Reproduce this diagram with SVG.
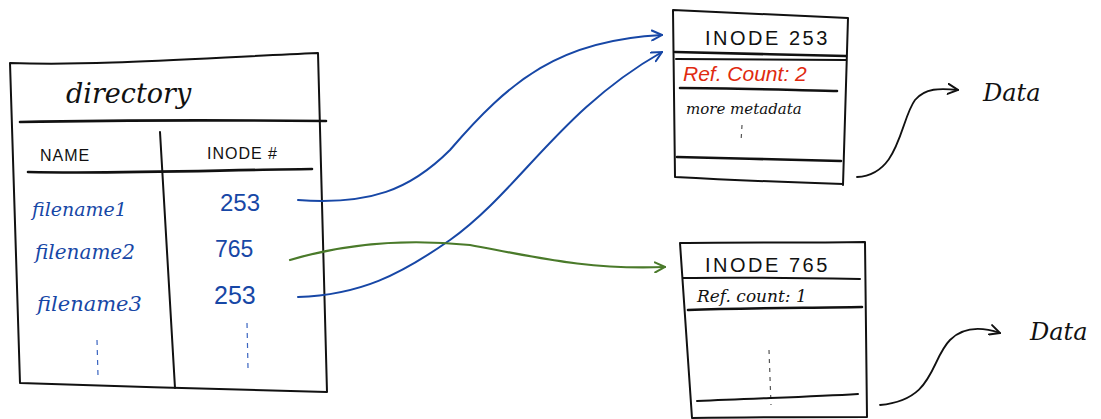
<svg xmlns="http://www.w3.org/2000/svg" width="1101" height="419" viewBox="0 0 1101 419">
<style>
.ln{fill:none;stroke:#111;stroke-width:2;stroke-linecap:round;stroke-linejoin:round}
.thk{stroke-width:2.6}
.hw{font-family:"Liberation Sans",sans-serif;fill:#111}
.cur{font-family:"DejaVu Serif","Liberation Serif",serif;font-style:italic}
.blue{fill:#1747a6}
.red{fill:#e02a10}
.dash{fill:none;stroke:#3a64c0;stroke-width:1.2;stroke-dasharray:5 5}
.dashk{fill:none;stroke:#555;stroke-width:1.2;stroke-dasharray:4 5}
.cb{fill:none;stroke:#1747a6;stroke-width:2;stroke-linecap:round}
.cg{fill:none;stroke:#4a7a2a;stroke-width:2.2;stroke-linecap:round}
.ck{fill:none;stroke:#111;stroke-width:1.8;stroke-linecap:round}
</style>
<defs>
<marker id="ab" viewBox="0 0 12 12" refX="11" refY="6" markerWidth="12" markerHeight="12" markerUnits="userSpaceOnUse" orient="auto"><path d="M1,1 L11,6 L1,11" fill="none" stroke="#1747a6" stroke-width="2" stroke-linecap="round"/></marker>
<marker id="ag" viewBox="0 0 12 12" refX="11" refY="6" markerWidth="12" markerHeight="12" markerUnits="userSpaceOnUse" orient="auto"><path d="M1,1 L11,6 L1,11" fill="none" stroke="#4a7a2a" stroke-width="2" stroke-linecap="round"/></marker>
<marker id="ak" viewBox="0 0 12 12" refX="11" refY="6" markerWidth="12" markerHeight="12" markerUnits="userSpaceOnUse" orient="auto"><path d="M1,1 L11,6 L1,11" fill="none" stroke="#111" stroke-width="2" stroke-linecap="round"/></marker>
</defs>

<g id="directory">
<path class="ln" d="M10,63 C100,66 200,58 318,53 M10,63 L20,383 M318,53 L327,392 M20,383 C120,386 230,390 327,392"/>
<path class="ln thk" d="M20,122 C120,120 220,120 326,121"/>
<path class="ln" d="M160,132 L175,388"/>
<path class="ln thk" d="M28,172 C120,174 220,170 312,169"/>
<text class="hw cur" x="66" y="103" font-size="27">directory</text>
<text class="hw" x="40" y="161" font-size="16" letter-spacing="1">NAME</text>
<text class="hw" x="207" y="159" font-size="16" letter-spacing="1">INODE #</text>
<text class="cur blue" x="32" y="216" font-size="19">filename1</text>
<text class="cur blue" x="35" y="259" font-size="20">filename2</text>
<text class="cur blue" x="37" y="311" font-size="21">filename3</text>
<text class="hw blue" x="220" y="211" font-size="24">253</text>
<text class="hw blue" x="215" y="257" font-size="23">765</text>
<text class="hw blue" x="214" y="304" font-size="25">253</text>
<path class="dash" d="M97,340 L98,376"/>
<path class="dash" d="M247,323 L248,368"/>
</g>

<g id="inode253">
<path class="ln" d="M673,10 C730,13 790,15 848,18 M673,10 L675,177 M848,18 L843,185 M675,177 C730,180 780,182 843,184"/>
<path class="ln thk" d="M675,52 C730,53 790,55 846,56"/>
<path class="ln" d="M676,59 L846,60"/>
<path class="ln thk" d="M680,88 C730,88 790,90 837,91"/>
<path class="ln thk" d="M677,157 C730,158 790,160 841,161"/>
<text class="hw" x="705" y="45" font-size="20" letter-spacing="2.5">INODE 253</text>
<text class="red" font-family="Liberation Sans,sans-serif" font-style="italic" x="683" y="81" font-size="21">Ref. Count: 2</text>
<text class="hw cur" x="686" y="114" font-size="15">more metadata</text>
<path class="dashk" d="M742,125 L741,142"/>
</g>

<g id="inode765">
<path class="ln" d="M680,243 C740,242 800,243 865,242 M680,243 L692,418 M865,242 L867,417 M692,418 C760,417 820,417 867,417"/>
<path class="ln" d="M683,278 C740,277 800,278 860,279"/>
<path class="ln thk" d="M688,310 C740,308 800,308 862,307"/>
<text class="hw" x="705" y="272" font-size="20" letter-spacing="2.5">INODE 765</text>
<text class="hw cur" x="697" y="302" font-size="17">Ref. count: 1</text>
<path class="dashk" d="M769,350 L771,405"/>
<path class="ln" d="M697,401 C760,398 810,397 858,394"/>
</g>

<g id="data1"><text class="hw cur" x="983" y="101" font-size="24">Data</text></g>
<g id="data2"><text class="hw cur" x="1030" y="340" font-size="24">Data</text></g>

<g id="connectors">
<path class="cb" d="M298,200 C370,205 410,190 450,150 C510,80 560,40 662,35" marker-end="url(#ab)"/>
<path class="cb" d="M298,297 C360,295 400,275 450,240 C520,190 560,110 662,52" marker-end="url(#ab)"/>
<path class="cg" d="M290,260 C340,245 400,238 470,245 C540,258 590,270 665,267" marker-end="url(#ag)"/>
<path class="ck" d="M857,177 C900,175 900,120 915,100 C925,88 940,88 958,90" marker-end="url(#ak)"/>
<path class="ck" d="M880,405 C935,400 930,360 950,340 C965,325 985,328 1000,333" marker-end="url(#ak)"/>
</g>
</svg>
